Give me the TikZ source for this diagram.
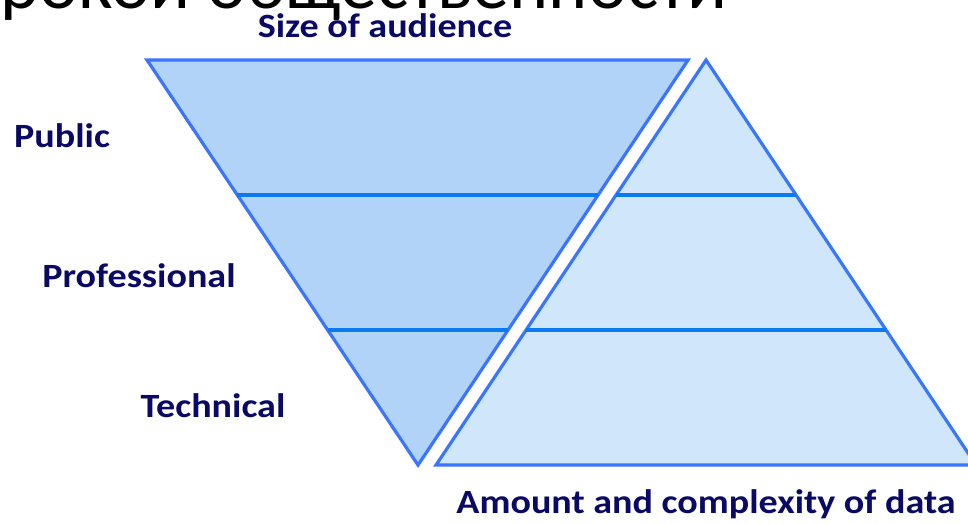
\documentclass[tikz,border=0pt]{standalone}
\usepackage{fontspec}
\setmainfont{Carlito}
\newfontfamily\widefont[FakeStretch=1.12]{Carlito}
\usetikzlibrary{positioning}
\definecolor{edge}{HTML}{3A75FF}
\definecolor{rule}{HTML}{0A7AF0}
\definecolor{darkfill}{HTML}{B0D3F7}
\definecolor{lightfill}{HTML}{D0E6FA}
\definecolor{ink}{HTML}{0A0A66}
\tikzset{lbl/.style={font=\widefont\fontsize{34}{40}\selectfont\bfseries,text=ink,inner sep=0pt,anchor=base},
 tri/.style={draw=edge,line width=3.2pt,line join=miter},
 sep/.style={draw=rule,line width=3.2pt}}

\begin{document}
\begin{tikzpicture}[x=1pt,y=-1pt]
\useasboundingbox (0,0) rectangle (968,523);
\clip (0,0) rectangle (968,523);
\node[anchor=base west,inner sep=0pt,font=\fontsize{74}{84}\selectfont](head) at (0,8){рокой общественности};
% audience funnel and data pyramid
\coordinate (tl) at (147,60);\coordinate (tr) at (688,60);\coordinate (tb) at (418,465);
\coordinate (pt) at (706,60);\coordinate (pl) at (436,465);\coordinate (pr) at (976,465);
\filldraw[tri,fill=darkfill](tl)--(tr)--(tb)--cycle;
\filldraw[tri,fill=lightfill](pt)--(pr)--(pl)--cycle;
\draw[sep](237,195)--(598,195);\draw[sep](328,330)--(508,330);
\draw[sep](616,195)--(796,195);\draw[sep](526,330)--(886,330);
\node[lbl](size) at (385,37){Size of audience};
\node[lbl](pub) at (62,147){Public};
\node[lbl](pro) at (139,287){Professional};
\node[lbl](tec) at (213,417){Technical};
\node[lbl](amt) at (706,513){Amount and complexity of data};
\end{tikzpicture}
\end{document}
